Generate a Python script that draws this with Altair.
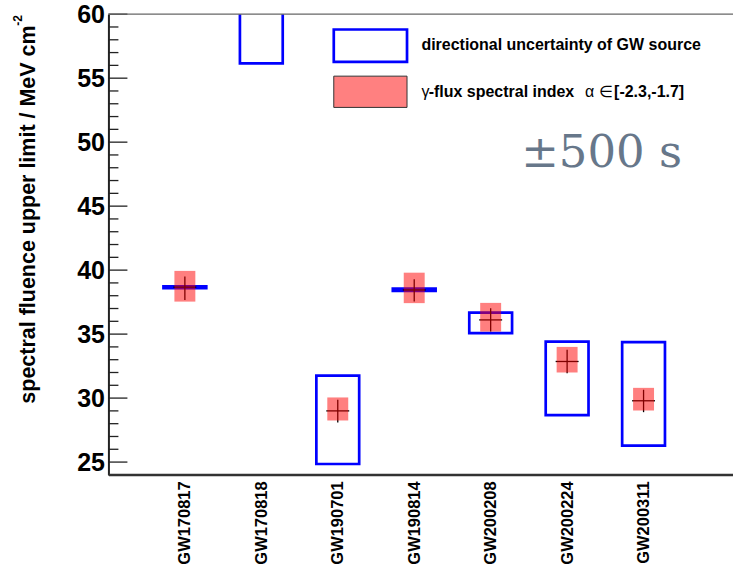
import json

import altair as alt
import pandas as pd

# Gravitational-wave events along the x axis
events = ["GW170817", "GW170818", "GW190701", "GW190814", "GW200208", "GW200224", "GW200311"]
slot = [1, 2, 3, 4, 5, 6, 7]

# Range of the upper limit over the directional uncertainty of the GW source
dir_low = [38.60, 56.15, 24.85, 38.38, 35.07, 28.67, 26.28]
dir_high = [38.74, 62.00, 31.76, 38.55, 36.68, 34.42, 34.37]

# Range of the upper limit for spectral index alpha in [-2.3, -1.7]
idx_low = [37.54, None, 28.25, 37.42, 35.20, 32.00, 29.03]
idx_high = [39.94, None, 30.05, 39.80, 37.44, 34.00, 30.80]

# Central upper limit and its error bar
ul_mid = [38.67, None, 29.00, 38.45, 36.11, 32.86, 29.79]
ul_low = [37.67, None, 28.10, 37.54, 35.20, 31.95, 28.90]
ul_high = [39.50, None, 29.87, 39.29, 37.03, 33.77, 30.65]

# Y axis tick values
major_ticks = [25, 30, 35, 40, 45, 50, 55, 60]
minor_ticks = [v for v in range(26, 60) if v % 5 != 0]

BOX_HALF = 0.28
IDX_HALF = 0.137
CROSS_HALF = 0.15

W, H = 625, 461
FONT = "Liberation Sans"

df = pd.DataFrame({
    "event": events,
    "slot": slot,
    "dir_low": dir_low,
    "dir_high": dir_high,
    "idx_low": idx_low,
    "idx_high": idx_high,
    "ul_mid": ul_mid,
    "ul_low": ul_low,
    "ul_high": ul_high,
})
df["box_lo"] = df["slot"] - BOX_HALF
df["box_hi"] = df["slot"] + BOX_HALF
df["idx_lo_x"] = df["slot"] - IDX_HALF
df["idx_hi_x"] = df["slot"] + IDX_HALF
df["cross_lo"] = df["slot"] - CROSS_HALF
df["cross_hi"] = df["slot"] + CROSS_HALF
limits = df.dropna(subset=["ul_mid"])

xs = alt.Scale(domain=[0, W / 76.5], nice=False, zero=False)
ys = alt.Scale(domain=[24, 60], nice=False, zero=False)

label_expr = json.dumps(events) + "[datum.value - 1]"

x_axis = alt.Axis(
    values=slot, labelExpr=label_expr, labelAngle=270, labelFont=FONT,
    labelFontSize=16.5, labelFontWeight="bold", labelColor="black", labelPadding=6,
    ticks=False, grid=False, domainColor="#333333", domainWidth=2, title=None,
)
y_axis = alt.Axis(
    values=major_ticks, labelFont=FONT, labelFontSize=25, labelFontWeight="bold",
    labelColor="black", labelPadding=4, ticks=False, grid=False,
    domainColor="#222222", domainWidth=2, title=None,
)

# Directional-uncertainty boxes
boxes = alt.Chart(df).mark_rect(
    fillOpacity=0, stroke="#0000ff", strokeWidth=2.7, clip=True
).encode(
    x=alt.X("box_lo:Q", scale=xs, axis=x_axis, title=None),
    x2="box_hi:Q",
    y=alt.Y("dir_low:Q", scale=ys, axis=y_axis, title=None),
    y2="dir_high:Q",
)

# Error-bar cross of each upper limit
cross_v = alt.Chart(limits).mark_rule(color="black", strokeWidth=1.3).encode(
    x=alt.X("slot:Q", scale=xs, title=None),
    y=alt.Y("ul_low:Q", scale=ys, title=None),
    y2="ul_high:Q",
)
cross_h = alt.Chart(limits).mark_rule(color="black", strokeWidth=1.3).encode(
    x=alt.X("cross_lo:Q", scale=xs, title=None),
    x2="cross_hi:Q",
    y=alt.Y("ul_mid:Q", scale=ys, title=None),
)

# Spectral-index bands
bands = alt.Chart(limits).mark_rect(color="#ff0000", opacity=0.5).encode(
    x=alt.X("idx_lo_x:Q", scale=xs, title=None),
    x2="idx_hi_x:Q",
    y=alt.Y("idx_low:Q", scale=ys, title=None),
    y2="idx_high:Q",
)

# Inward y ticks
major = alt.Chart(pd.DataFrame({"v": major_ticks})).mark_rule(
    color="#222222", strokeWidth=1.3
).encode(x=alt.value(0), x2=alt.value(19), y=alt.Y("v:Q", scale=ys, title=None))
minor = alt.Chart(pd.DataFrame({"v": minor_ticks})).mark_rule(
    color="#222222", strokeWidth=1.3
).encode(x=alt.value(0), x2=alt.value(10), y=alt.Y("v:Q", scale=ys, title=None))

one = pd.DataFrame({"k": [0]})

# Frame lines along the top and bottom of the plot
top_line = alt.Chart(one).mark_rule(color="#666666", strokeWidth=1.3).encode(
    x=alt.value(0), x2=alt.value(W), y=alt.value(0)
)
bottom_line = alt.Chart(one).mark_rule(color="#333333", strokeWidth=2).encode(
    x=alt.value(0), x2=alt.value(W), y=alt.value(H)
)

# Legend
leg_box = alt.Chart(one).mark_rect(
    fillOpacity=0, stroke="#0000ff", strokeWidth=2.7
).encode(x=alt.value(225.5), x2=alt.value(298.8), y=alt.value(15.3), y2=alt.value(47.7))
leg_band = alt.Chart(one).mark_rect(
    fill="#ff8080", stroke="#333333", strokeWidth=1
).encode(x=alt.value(225.5), x2=alt.value(298.8), y=alt.value(62), y2=alt.value(93.3))


def label(text, x, y, size=16, weight="bold", font=FONT, color="black",
          angle=0, align="left", baseline="middle"):
    return alt.Chart(one).mark_text(
        font=font, fontSize=size, fontWeight=weight, color=color,
        angle=angle, align=align, baseline=baseline,
    ).encode(x=alt.value(x), y=alt.value(y), text=alt.value(text))


leg_text = [
    label("directional uncertainty of GW source", 313.2, 31),
    label("\u03b3", 313.2, 78, weight="normal"),
    label("-flux spectral index", 320.5, 78),
    label("\u03b1", 477, 78, weight="normal"),
    label("\u2208", 491, 78, weight="normal"),
    label("[-2.3,-1.7]", 506, 78),
]

time_window = label("\u00b1500 s", 413, 153, size=45, weight="normal",
                    font="DejaVu Serif", color="#67778a", baseline="alphabetic")

y_title = label("spectral fluence upper limit / MeV cm", -73.5, 200.5, size=21.5,
                angle=270, align="center", baseline="alphabetic")
y_title_sup = label("-2", -86.5, 11.5, size=12, angle=270, baseline="alphabetic")

chart = alt.layer(
    boxes, cross_v, cross_h, bands, major, minor, top_line, bottom_line,
    leg_box, leg_band, *leg_text, time_window, y_title, y_title_sup,
).properties(
    width=W,
    height=H,
    autosize=alt.AutoSizeParams(type="none"),
    padding={"left": 108.5, "top": 14, "right": 0, "bottom": 95},
).configure(font=FONT).configure_view(strokeWidth=0)

chart.save("out.html", embed_options={"renderer": "svg", "actions": False})
